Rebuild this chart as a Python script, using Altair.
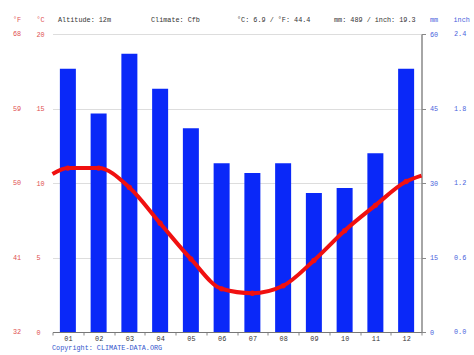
import altair as alt
import pandas as pd

# ---- data ----
months = ["01", "02", "03", "04", "05", "06", "07", "08", "09", "10", "11", "12"]
precip_mm = [53, 44, 56, 49, 41, 34, 32, 34, 28, 29, 36, 53]
temp_c = [11.0, 11.0, 9.7, 7.3, 4.9, 2.9, 2.6, 3.1, 4.8, 6.8, 8.5, 10.1]
edge_temp_left = 10.6   # where the curve meets the left edge
edge_temp_right = 10.5  # where the curve meets the right edge

c_ticks = [0, 5, 10, 15, 20]
f_labels = ["32", "41", "50", "59", "68"]
mm_ticks = [0, 15, 30, 45, 60]
inch_labels = ["0.0", "0.6", "1.2", "1.8", "2.4"]

header_altitude = "Altitude: 12m"
header_climate = "Climate: Cfb"
header_temp = "°C: 6.9 / °F: 44.4"
header_precip = "mm: 489 / inch: 19.3"
copyright_text = "Copyright: CLIMATE-DATA.ORG"

FONT = "Liberation Mono"
FS = 6.8
RED_LBL = "#e05050"
BLUE_LBL = "#4a5fdc"
BAR = "#0a28f8"
LINE = "#f01010"
TXT = "#333333"

W, H = 369, 298

bars_df = pd.DataFrame({"month": months, "mm": precip_mm})
line_df = pd.DataFrame({
    "pos": [0.5] + list(range(1, 13)) + [12.5],
    "t": [edge_temp_left] + temp_c + [edge_temp_right],
})
pts_df = pd.DataFrame({"pos": list(range(1, 13)), "t": temp_c})
f_df = pd.DataFrame({"c": c_ticks, "lbl": f_labels})
inch_df = pd.DataFrame({"mm": mm_ticks, "lbl": inch_labels})

bars = alt.Chart(bars_df).mark_bar(width=16, color=BAR).encode(
    x=alt.X("month:O", sort=months,
            scale=alt.Scale(paddingInner=0, paddingOuter=0),
            axis=alt.Axis(title=None, labelAngle=0, tickBand="extent",
                          labelFont=FONT, labelFontSize=FS, labelColor=TXT,
                          tickColor="#888888", tickSize=3, domainColor="#777777",
                          labelPadding=0, grid=False)),
    y=alt.Y("mm:Q", scale=alt.Scale(domain=[0, 60], nice=False),
            axis=alt.Axis(title=None, orient="right", values=mm_ticks,
                          labelFont=FONT, labelFontSize=FS, labelColor=BLUE_LBL,
                          tickColor="#888888", tickSize=4, domainColor="#888888",
                          domainWidth=1.5, labelPadding=4, grid=False)),
)

xq = alt.X("pos:Q", scale=alt.Scale(domain=[0.5, 12.5], nice=False, zero=False), axis=None)

line = alt.Chart(line_df).mark_line(color=LINE, strokeWidth=4, interpolate="monotone").encode(
    x=xq,
    y=alt.Y("t:Q", scale=alt.Scale(domain=[0, 20], nice=False),
            axis=alt.Axis(title=None, orient="left", values=c_ticks,
                          labelFont=FONT, labelFontSize=FS, labelColor=RED_LBL,
                          labelAlign="left", labelPadding=16.5, ticks=False, tickSize=0,
                          domain=False, grid=True, gridColor="#dddddd")),
)

pts = alt.Chart(pts_df).mark_circle(color=LINE, size=28, opacity=1).encode(
    x=xq,
    y=alt.Y("t:Q", scale=alt.Scale(domain=[0, 20], nice=False), axis=None),
)

f_text = alt.Chart(f_df).mark_text(font=FONT, fontSize=FS, color=RED_LBL, align="left",
                                   baseline="middle").encode(
    x=alt.value(-39.5),
    y=alt.Y("c:Q", scale=alt.Scale(domain=[0, 20], nice=False), axis=None),
    text="lbl:N",
)

inch_text = alt.Chart(inch_df).mark_text(font=FONT, fontSize=FS, color=BLUE_LBL, align="left",
                                         baseline="middle").encode(
    x=alt.value(401.5),
    y=alt.Y("mm:Q", scale=alt.Scale(domain=[0, 60], nice=False), axis=None),
    text="lbl:N",
)


def label(txt, x, y, color):
    return alt.Chart(pd.DataFrame({"s": [txt]})).mark_text(
        font=FONT, fontSize=FS, color=color, align="left", baseline="middle"
    ).encode(x=alt.value(x), y=alt.value(y), text="s:N")


hy = -14
texts = [
    label("°F", -39.5, hy, RED_LBL),
    label("°C", -16, hy, RED_LBL),
    label(header_altitude, 5.5, hy, TXT),
    label(header_climate, 98.5, hy, TXT),
    label(header_temp, 184.5, hy, TXT),
    label(header_precip, 281.5, hy, TXT),
    label("mm", 377.5, hy, BLUE_LBL),
    label("inch", 401, hy, BLUE_LBL),
    label(copyright_text, -0.5, 314, "#3355cc"),
]

chart = alt.layer(bars, line, pts, f_text, inch_text, *texts).resolve_scale(
    x="independent", y="independent"
).properties(
    width=W, height=H,
    padding={"left": 52.5, "top": 34, "right": 52.5, "bottom": 23},
    autosize=alt.AutoSizeParams(type="none"),
).configure_view(stroke=None)

chart.save("out.html", embed_options={"renderer": "svg", "actions": False})
